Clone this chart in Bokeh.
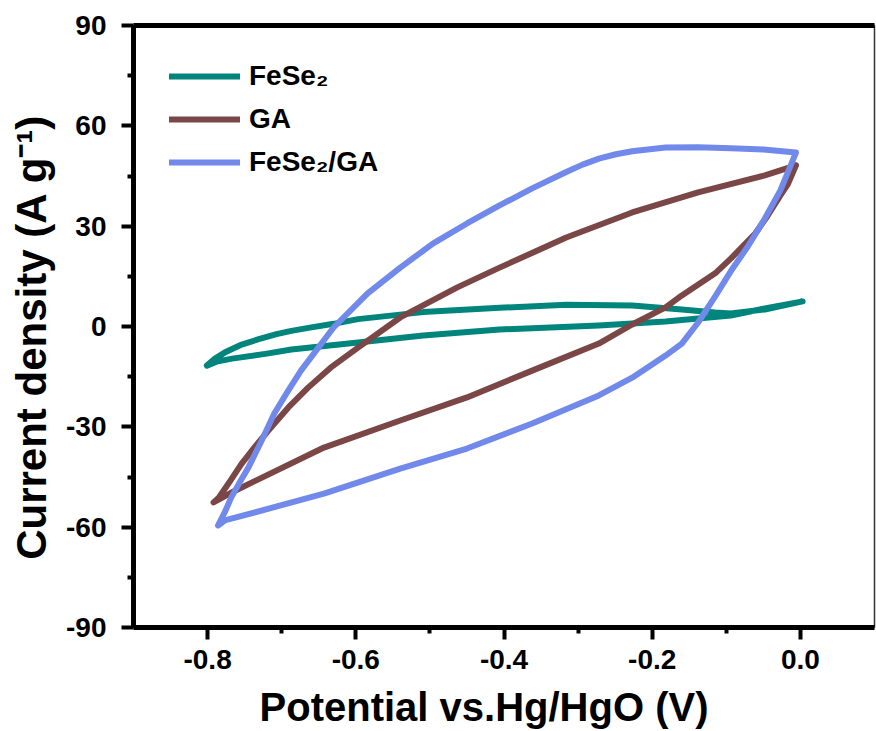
from bokeh.plotting import figure
from bokeh.models import (Range1d, FixedTicker, NumeralTickFormatter, LinearAxis,
                          Legend, LegendItem)
from bokeh.embed import file_html
from bokeh.resources import INLINE

# ---------------- data ----------------
# FeSe2: closed CV loop
fese2_x = [-0.801, -0.790, -0.777, -0.754, -0.731, -0.707, -0.687, -0.664, -0.630,
           -0.597, -0.509, -0.406, -0.316, -0.227, -0.160, -0.115, -0.094, -0.048,
           0.003,
           -0.048, -0.094, -0.138, -0.182, -0.272, -0.406, -0.509, -0.597, -0.687,
           -0.720, -0.767, -0.788, -0.801]
fese2_y = [-11.7, -9.6, -7.8, -5.4, -3.8, -2.3, -1.3, -0.4, 0.8,
           2.2, 4.3, 5.6, 6.5, 6.3, 5.1, 4.2, 3.9, 5.1,
           7.5,
           5.4, 3.3, 2.4, 1.5, 0.3, -0.9, -2.7, -4.8, -6.9,
           -8.1, -9.6, -10.5, -11.7]

# GA: closed CV loop
ga_x = [-0.006, -0.048, -0.138, -0.227, -0.316, -0.406, -0.463, -0.540, -0.597,
        -0.634, -0.664, -0.691, -0.718, -0.737, -0.754, -0.771, -0.785, -0.792,
        -0.763, -0.643, -0.540, -0.450, -0.362, -0.272, -0.227, -0.182, -0.160,
        -0.115, -0.094, -0.061, -0.044, -0.027, -0.017, -0.006]
ga_y = [48.2, 45.2, 40.1, 34.1, 26.6, 17.6, 11.7, 2.7, -6.3,
        -12.3, -18.2, -24.2, -31.1, -36.2, -41.0, -46.7, -51.2, -52.6,
        -49.1, -36.2, -28.1, -21.2, -13.2, -5.1, 0.6, 5.7, 9.3,
        15.9, 20.3, 27.8, 33.2, 39.2, 42.5, 48.2]

# FeSe2/GA: closed CV loop
fga_x = [-0.006, -0.050, -0.094, -0.138, -0.182, -0.227, -0.249, -0.272, -0.294,
         -0.316, -0.362, -0.406, -0.450, -0.496, -0.540, -0.584, -0.630, -0.674,
         -0.691, -0.710, -0.727, -0.745, -0.757, -0.768, -0.777, -0.786,
         -0.777, -0.643, -0.540, -0.450, -0.362, -0.272, -0.227, -0.182, -0.160,
         -0.138, -0.115, -0.094, -0.071, -0.048, -0.027, -0.006]
fga_y = [52.0, 52.9, 53.3, 53.6, 53.5, 52.4, 51.5, 50.2, 48.4,
         46.2, 41.3, 36.2, 30.8, 24.8, 17.6, 9.9, -0.3, -13.2,
         -19.1, -26.0, -34.1, -42.2, -46.7, -51.1, -55.6, -59.5,
         -58.0, -50.0, -42.5, -36.5, -29.0, -20.6, -15.3, -8.7, -5.1,
         1.2, 9.0, 16.5, 23.9, 32.3, 40.7, 52.0]

series_names = ["FeSe\u2082", "GA", "FeSe\u2082/GA"]
series_colors = ["#00857C", "#7A4646", "#7289EC"]

x_major = [-0.8, -0.6, -0.4, -0.2, 0.0]
x_minor = [-0.7, -0.5, -0.3, -0.1]
y_major = [-90, -60, -30, 0, 30, 60, 90]
y_minor = [-75, -45, -15, 15, 45, 75]

FONT = "Liberation Sans"

p = figure(width=876, height=731, output_backend="svg", toolbar_location=None,
           x_range=Range1d(-0.9, 0.1), y_range=Range1d(-90, 90),
           min_border_left=133, min_border_right=2, min_border_top=25,
           min_border_bottom=103)
p.background_fill_color = "white"
p.border_fill_color = "white"
p.grid.visible = False
p.outline_line_color = "#333333"
p.outline_line_width = 1.5

renderers = []
for xs, ys, c in [(fese2_x, fese2_y, series_colors[0]),
                  (ga_x, ga_y, series_colors[1]),
                  (fga_x, fga_y, series_colors[2])]:
    r = p.line(xs, ys, line_color=c, line_width=6, line_join="round", line_cap="round")
    renderers.append(r)

for ax, major, minor, fmt in [(p.xaxis[0], x_major, x_minor, "0.0"),
                              (p.yaxis[0], y_major, y_minor, "0")]:
    ax.ticker = FixedTicker(ticks=major, minor_ticks=minor)
    ax.formatter = NumeralTickFormatter(format=fmt)
    ax.axis_line_width = 5
    ax.axis_line_color = "black"
    ax.major_tick_line_width = 4
    ax.minor_tick_line_width = 4
    ax.major_tick_in = 0
    ax.major_tick_out = 12
    ax.minor_tick_in = 0
    ax.minor_tick_out = 6
    ax.major_label_text_font = FONT
    ax.major_label_text_font_style = "bold"
    ax.major_label_text_font_size = "28px"
    ax.major_label_text_color = "black"
    ax.axis_label_text_font = FONT
    ax.axis_label_text_font_style = "bold"
    ax.axis_label_text_color = "black"

p.xaxis[0].axis_label = "Potential vs.Hg/HgO (V)\u2003"
p.yaxis[0].axis_label = "Current density (A g\u207b\u00b9)\u2002"
p.xaxis[0].axis_label_text_font_size = "40px"
p.yaxis[0].axis_label_text_font_size = "42px"
p.xaxis[0].major_label_standoff = 10
p.yaxis[0].major_label_standoff = 15
p.xaxis[0].axis_label_standoff = 13
p.yaxis[0].axis_label_standoff = 8

top = LinearAxis(ticker=FixedTicker(ticks=[]), major_label_text_font_size="0px",
                 axis_line_width=5, axis_line_color="black",
                 major_tick_out=0, minor_tick_out=0)
p.add_layout(top, "above")

legend = Legend(items=[LegendItem(label=n, renderers=[r])
                       for n, r in zip(series_names, renderers)],
                location=(36, 449), margin=0, padding=0,
                glyph_width=71, glyph_height=32, label_height=32,
                label_standoff=9, spacing=11,
                label_text_font=FONT, label_text_font_style="bold",
                label_text_font_size="28px", label_text_color="black",
                border_line_color=None, background_fill_alpha=0)
p.add_layout(legend)

open("out.html", "w").write(file_html(p, INLINE))
